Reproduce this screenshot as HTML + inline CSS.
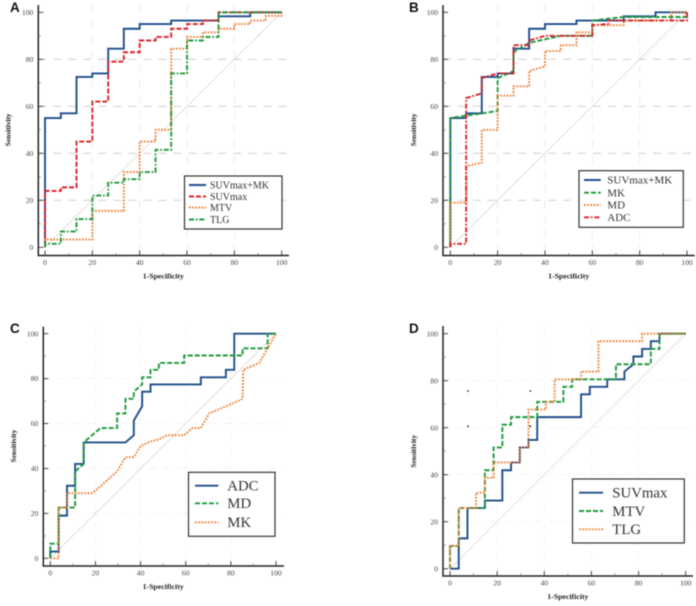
<!DOCTYPE html>
<html lang="en">
<head>
<meta charset="utf-8">
<title>ROC curves</title>
<style>
html,body{margin:0;padding:0;background:#fff;}
#figure{display:block;width:696px;height:606px;filter:blur(0.45px);}
text{font-family:"Liberation Serif",serif;}
</style>
</head>
<body>
<svg id="figure" xmlns="http://www.w3.org/2000/svg" width="696" height="606" viewBox="0 0 696 606"></svg>
<script>
// Axis tick labels
const tickLabels = [0, 20, 40, 60, 80, 100];
const minorTicks = [10, 30, 50, 70, 90];

// Panel A
const aSuvMkX = [0,0,6.7,6.7,13.3,13.3,20,20,26.7,26.7,33.3,33.3,40,40,53.3,53.3,73.3,73.3,86.7,86.7,100];
const aSuvMkY = [0,55,55,57,57,72.5,72.5,74,74,84.5,84.5,93,93,95,95,96.5,96.5,98.3,98.3,100,100];
const aSuvX = [0,0,6.7,6.7,13.3,13.3,20,20,26.7,26.7,33.3,33.3,40,40,46.7,46.7,53.3,53.3,60,60,66.7,66.7,73.3,73.3,100];
const aSuvY = [0,24,24,25.5,25.5,45,45,62,62,79,79,83,83,88,88,89.5,89.5,93,93,95,95,96.5,96.5,100,100];
const aMtvX = [0,0,20,20,33.3,33.3,40,40,46.7,46.7,53.3,53.3,60,60,66.7,66.7,73.3,73.3,80,80,86.7,86.7,93.3,93.3,100,100];
const aMtvY = [0,3.3,3.3,15.5,15.5,32,32,45,45,50,50,84.5,84.5,89.5,89.5,91.5,91.5,93,93,95,95,96.5,96.5,98.5,98.5,100];
const aTlgX = [0,0,6.7,6.7,13.3,13.3,20,20,26.7,26.7,33.3,33.3,40,40,46.7,46.7,53.3,53.3,60,60,66.7,66.7,73.3,73.3,100];
const aTlgY = [0,1.5,1.5,6.7,6.7,12,12,22,22,27.5,27.5,29,29,32,32,41.5,41.5,74,74,88,88,89.5,89.5,100,100];

// Panel B
const bSuvMkX = [0,0,6.7,6.7,13.3,13.3,20,20,26.7,26.7,33.3,33.3,40,40,53.3,53.3,73.3,73.3,86.7,86.7,100];
const bSuvMkY = [0,55,55,57,57,72.5,72.5,74,74,84.5,84.5,93,93,95,95,96.5,96.5,98.3,98.3,100,100];
const bMkX = [0,0,13.3,20,20,26.7,26.7,33.3,46.7,60,60,73.3,100,100];
const bMkY = [0,55,57,58,72,75,83,87,90,90,96.5,98,98,100];
const bMdX = [0,0,6.7,6.7,13.3,13.3,20,20,26.7,26.7,33.3,33.3,40,40,46.7,46.7,53.3,53.3,60,60,73.3,73.3,93.3,93.3,100];
const bMdY = [0,19,19,34.5,36,50,50,64.5,64.5,68.5,68.5,75,77,83.5,83.5,86,86,91.5,91.5,94.5,94.5,96.5,96.5,100,100];
const bAdcX = [0,0,6.7,6.7,13.3,13.3,20,26.7,26.7,33.3,33.3,40,60,60,66.7,66.7,100,100];
const bAdcY = [0,1.5,1.5,63.5,65.5,72,74,74,86,86,88,90,90,94.5,95,96.5,96.5,100];

// Panel C
const cAdcX = [0,0,3.7,3.7,7.4,7.4,11,11,14.8,14.8,33.3,37,37,40.7,40.7,44.4,44.4,66.7,66.7,77.8,77.8,81.5,81.5,100];
const cAdcY = [0,3,3,19,19,32.3,32.3,42,42,51.6,51.6,54.8,61.3,67.7,74.2,74.2,77.4,77.4,80.6,80.6,83.9,83.9,100,100];
const cMdX = [0,0,3.7,3.7,11,11,14.8,14.8,22.2,29.6,29.6,33.3,33.3,37,37,40.7,40.7,44.4,44.4,48.1,48.1,59.3,59.3,85.2,85.2,96.3,96.3,100];
const cMdY = [0,6.5,6.5,22.6,22.6,38.7,42,51.6,58,58,64.5,64.5,71,71,74.2,77.4,80.6,80.6,83.9,83.9,87,87,90.3,90.3,93.5,93.5,100,100];
const cMkX = [0,3.7,3.7,7.4,7.4,18.5,22.2,29.6,33.3,37,40,44.4,48.1,51.8,59.3,63,66.7,70.4,77.8,85.2,85.5,92.6,96.3,100];
const cMkY = [0,0,22.6,22.6,29,29,32,38.7,45,45,50,52,53,54.8,54.8,58,58,64.5,67.7,71,84,87,93.5,100];

// Panel D
const dSuvX = [0,3.7,3.7,7.4,7.4,14.8,14.8,22.2,22.2,25.9,25.9,29.6,29.6,33.3,33.3,37,37,55.6,55.6,59.3,59.3,66.7,66.7,74,74,77.8,77.8,81.5,81.5,85.2,85.2,88.9,88.9,100];
const dSuvY = [0,0,12.9,12.9,25.8,25.8,29,29,41.9,41.9,45.2,45.2,51.6,51.6,54.8,54.8,64.5,64.5,74.2,74.2,77.4,77.4,80.6,80.6,83.9,87,90.3,90.3,93.5,93.5,96.8,96.8,100,100];
const dMtvX = [0,0,3.7,3.7,14.8,14.8,18.5,18.5,22.2,22.2,25.9,25.9,37,37,48.1,48.1,51.8,51.8,70.4,70.4,85.2,85.2,88.9,88.9,100];
const dMtvY = [0,9.7,9.7,25.8,25.8,41.9,41.9,51.6,51.6,61.3,61.3,64.5,64.5,71,71,77.4,77.4,80.6,80.6,87,87,93.5,93.5,100,100];
const dTlgX = [0,0,3.7,3.7,11,11,14.8,14.8,18.5,18.5,29.6,29.6,33.3,33.3,40.7,40.7,44.4,44.4,55.6,55.6,63,63,81.5,81.5,100];
const dTlgY = [0,9.7,9.7,25.8,25.8,32.3,32.3,38.7,38.7,45.2,45.2,51.6,51.6,67.7,67.7,71,71,80.6,80.6,83.9,83.9,96.8,96.8,100,100];

const svg = document.getElementById('figure');
const NS = 'http://www.w3.org/2000/svg';
const BLUE = '#1f4e8c', RED = '#d8232a', ORANGE = '#ed7d31', GREEN = '#1e9a3c';
const SOLID = 'none', DASH = '5 2', DOT = '1.7 1.5', DASHDOT = '5 1.8 1.7 1.8';

function make(tag, parent, attrs, name) {
  const el = document.createElementNS(NS, tag);
  for (const k in attrs) el.setAttribute(k, attrs[k]);
  
  
  parent.appendChild(el);
  return el;
}
function label(parent, x, y, str, size, fill, anchor, weight, name, extra) {
  const t = make('text', parent, Object.assign({x: x, y: y, 'font-size': size, fill: fill, 'text-anchor': anchor, 'font-weight': weight}, extra || {}), name);
  t.textContent = str;
  return t;
}

function drawPanel(p) {
  const g = make('g', svg, {}, 'panel-' + p.id.toLowerCase());
  const sx = v => p.x0 + (p.x100 - p.x0) * v / 100;
  const sy = v => p.y0 + (p.y100 - p.y0) * v / 100;

  // grid
  [20, 40, 60, 80].forEach(v => {
    make('line', g, {x1: p.left, x2: p.right, y1: sy(v), y2: sy(v), stroke: p.grid, 'stroke-width': 0.8, 'stroke-dasharray': '8 7'}, 'h-grid-' + v);
    make('line', g, {x1: sx(v), x2: sx(v), y1: p.top, y2: p.bottom, stroke: p.vgrid, 'stroke-width': 0.8, 'stroke-dasharray': '8 7'}, 'v-grid-' + v);
  });
  // reference diagonal
  make('line', g, {x1: sx(0), y1: sy(0), x2: sx(100), y2: sy(100), stroke: '#dccfcf', 'stroke-width': 0.7}, 'reference-diagonal');

  // axes
  make('line', g, {x1: p.left, x2: p.left, y1: p.top, y2: p.bottom + 0.8, stroke: '#222', 'stroke-width': 1.5}, 'y-axis');
  make('line', g, {x1: p.left, x2: p.right, y1: p.bottom, y2: p.bottom, stroke: '#222', 'stroke-width': 1.5}, 'x-axis');

  // ticks
  tickLabels.forEach(v => {
    make('line', g, {x1: p.left, x2: p.left + 5, y1: sy(v), y2: sy(v), stroke: '#333', 'stroke-width': 0.9}, 'y-tick-' + v);
    make('line', g, {x1: sx(v), x2: sx(v), y1: p.bottom, y2: p.bottom - 5, stroke: '#333', 'stroke-width': 0.9}, 'x-tick-' + v);
    label(g, p.left - 5, sy(v) + 2.6, String(v), 7.6, '#444', 'end', 'normal', 'y-tick-label-' + v);
    label(g, sx(v), p.bottom + 9.5, String(v), 7.6, '#444', 'middle', 'normal', 'x-tick-label-' + v);
  });
  minorTicks.forEach(v => {
    make('line', g, {x1: p.left, x2: p.left + 2.5, y1: sy(v), y2: sy(v), stroke: '#666', 'stroke-width': 0.7}, 'y-minor-tick-' + v);
    make('line', g, {x1: sx(v), x2: sx(v), y1: p.bottom, y2: p.bottom - 2.5, stroke: '#666', 'stroke-width': 0.7}, 'x-minor-tick-' + v);
  });

  // titles
  label(g, (p.x0 + p.x100) / 2, p.bottom + 23, '1-Specificity', 7.8, '#222', 'middle', 'bold', 'x-axis-title');
  const yt = p.ytitleX, ym = (p.y0 + p.y100) / 2;
  label(g, yt, ym, 'Sensitivity', 7.4, '#222', 'middle', 'bold', 'y-axis-title', {transform: 'rotate(-90 ' + yt + ' ' + ym + ')'});
  const letter = label(g, p.letterX, p.letterY, p.id, 13.5, '#111', 'start', 'bold', 'panel-letter-' + p.id.toLowerCase());
  letter.setAttribute('style', 'font-family:"Liberation Sans",sans-serif');

  // series
  p.series.forEach(s => {
    const d = s.xs.map((x, i) => (i ? 'L' : 'M') + sx(x).toFixed(2) + ' ' + sy(s.ys[i]).toFixed(2)).join(' ');
    make('path', g, {d: d, fill: 'none', stroke: s.color, 'stroke-width': p.lw, 'stroke-dasharray': s.dash, 'stroke-linejoin': 'miter'}, 'curve-' + s.key);
  });

  // legend
  const L = p.legend;
  const lg = make('g', g, {}, 'legend');
  make('rect', lg, {x: L.x, y: L.y, width: L.w, height: L.h, fill: '#fff', stroke: '#333', 'stroke-width': 1.2}, 'legend-box');
  p.series.forEach((s, i) => {
    const ey = L.rows[i];
    make('line', lg, {x1: L.lx1, x2: L.lx2, y1: ey, y2: ey, stroke: s.color, 'stroke-width': p.lw, 'stroke-dasharray': s.dash}, 'legend-swatch-' + s.key);
    label(lg, L.tx, ey + L.size * 0.33, s.name, L.size, '#333', 'start', 'normal', 'legend-entry-' + s.key);
  });
}

drawPanel({
  id: 'A', x0: 45, x100: 281.7, y0: 247.3, y100: 12.3, left: 38.3, right: 289, top: 5, bottom: 255.5,
  ytitleX: 10.5, letterX: 10, letterY: 12, grid: '#c9c9c9', vgrid: '#e6e6e6', lw: 1.9,
  legend: {x: 184.5, y: 176, w: 97.5, h: 53, lx1: 189, lx2: 206, tx: 210, size: 10, rows: [185, 196.5, 207.5, 219.5]},
  series: [
    {key: 'suvmax-mk', name: 'SUVmax+MK', color: BLUE, dash: SOLID, xs: aSuvMkX, ys: aSuvMkY},
    {key: 'suvmax', name: 'SUVmax', color: RED, dash: DASH, xs: aSuvX, ys: aSuvY},
    {key: 'mtv', name: 'MTV', color: ORANGE, dash: DOT, xs: aMtvX, ys: aMtvY},
    {key: 'tlg', name: 'TLG', color: GREEN, dash: DASHDOT, xs: aTlgX, ys: aTlgY}
  ]
});
drawPanel({
  id: 'B', x0: 450.3, x100: 687, y0: 247.3, y100: 12.3, left: 443, right: 694.7, top: 5, bottom: 255.5,
  ytitleX: 416, letterX: 409, letterY: 12, grid: '#c9c9c9', vgrid: '#e6e6e6', lw: 1.9,
  legend: {x: 579, y: 170.7, w: 104.3, h: 56.6, lx1: 584, lx2: 600.7, tx: 607.3, size: 11, rows: [180, 192.7, 205, 217.3]},
  series: [
    {key: 'suvmax-mk', name: 'SUVmax+MK', color: BLUE, dash: SOLID, xs: bSuvMkX, ys: bSuvMkY},
    {key: 'mk', name: 'MK', color: GREEN, dash: DASH, xs: bMkX, ys: bMkY},
    {key: 'md', name: 'MD', color: ORANGE, dash: DOT, xs: bMdX, ys: bMdY},
    {key: 'adc', name: 'ADC', color: RED, dash: DASHDOT, xs: bAdcX, ys: bAdcY}
  ]
});
drawPanel({
  id: 'C', x0: 50.3, x100: 276, y0: 558.3, y100: 333.7, left: 43.3, right: 284, top: 326.7, bottom: 566,
  ytitleX: 16, letterX: 10, letterY: 333, grid: '#f1f1f1', vgrid: '#f3f3f3', lw: 1.9,
  legend: {x: 188.5, y: 472.3, w: 86.5, h: 64, lx1: 195, lx2: 218.3, tx: 227.3, size: 14.8, rows: [485.7, 503.3, 522.3]},
  series: [
    {key: 'adc', name: 'ADC', color: BLUE, dash: SOLID, xs: cAdcX, ys: cAdcY},
    {key: 'md', name: 'MD', color: GREEN, dash: DASH, xs: cMdX, ys: cMdY},
    {key: 'mk', name: 'MK', color: ORANGE, dash: DOT, xs: cMkX, ys: cMkY}
  ]
});
drawPanel({
  id: 'D', x0: 450, x100: 685.7, y0: 568.7, y100: 333.7, left: 443, right: 693, top: 326, bottom: 576,
  ytitleX: 416, letterX: 409, letterY: 333, grid: '#f1f1f1', vgrid: '#f3f3f3', lw: 1.9,
  legend: {x: 572.5, y: 479, w: 111.8, h: 64, lx1: 579, lx2: 603, tx: 612.3, size: 14.8, rows: [492.7, 511, 529.3]},
  series: [
    {key: 'suvmax', name: 'SUVmax', color: BLUE, dash: SOLID, xs: dSuvX, ys: dSuvY},
    {key: 'mtv', name: 'MTV', color: GREEN, dash: DASH, xs: dMtvX, ys: dMtvY},
    {key: 'tlg', name: 'TLG', color: ORANGE, dash: DOT, xs: dTlgX, ys: dTlgY}
  ]
});

// stray artefact dots in panel D
const stray = make('g', svg, {fill: '#222'}, 'panel-d-stray-dots');
make('circle', stray, {cx: 468, cy: 391, r: 0.9}, 'stray-dot');
make('circle', stray, {cx: 468, cy: 426.3, r: 0.9}, 'stray-dot');
make('circle', stray, {cx: 530.3, cy: 391, r: 0.9}, 'stray-dot');
make('circle', stray, {cx: 530.3, cy: 426.3, r: 0.9}, 'stray-dot');
</script>
</body>
</html>
